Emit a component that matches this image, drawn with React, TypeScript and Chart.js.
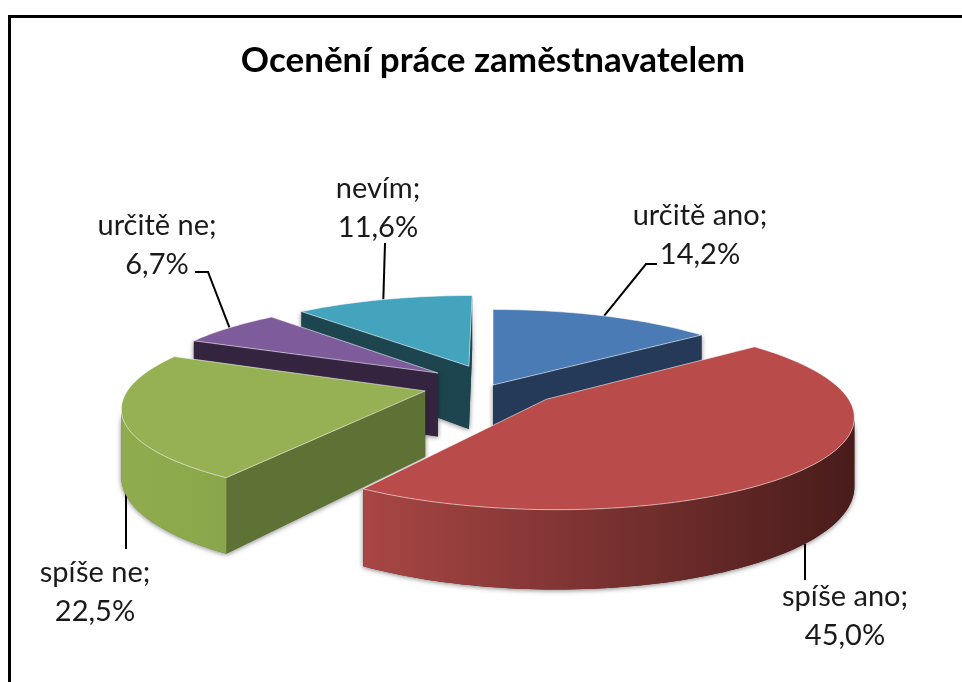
import React, { useEffect, useRef } from "react";
import { Chart, registerables } from "chart.js";

Chart.register(...registerables);

const TITLE = "Ocenění práce zaměstnavatelem";
const categories = ["určitě ano", "spíše ano", "spíše ne", "určitě ne", "nevím"];
const values = [14.2, 45.0, 22.5, 6.7, 11.6];
const valueLabels = ["14,2%", "45,0%", "22,5%", "6,7%", "11,6%"];

const topColors = ["#4a7bb5", "#b94c4a", "#96b154", "#7e5c9c", "#44a3bd"];
const cutColors = ["#243a58", "#5a2422", "#5f7235", "#35243f", "#1d4550"];
const wallLeft = ["#2c4a70", "#a84644", "#8fad4e", "#44305c", "#24596a"];
const wallRight = ["#243a58", "#481c1b", "#8aa64a", "#35243f", "#1d4550"];
const sliceOffsets = [0, 63, 63, 63, 63];

// view of the pie: how the flat disc is squashed and tilted
const VIEW = { sx: 1.11, sy: 0.33, tilt: 0.16, depth: 65 };

// label layout: line-centre x, first baseline, then the elbows of the leader
const labelLayout = [
  { x: 700, y: 225, leader: [[646, 264], [657, 264]], onWall: false },
  { x: 845, y: 606, leader: [[805, 580]], onWall: true },
  { x: 95, y: 582, leader: [[126, 549]], onWall: true },
  { x: 157, y: 235, leader: [[208, 272], [195, 272]], onWall: false },
  { x: 378, y: 198, leader: [[385, 243]], onWall: false },
];

function project(arc: any, u: number, v: number, down = 0) {
  const r = arc.outerRadius;
  const s = 1 / (1 - VIEW.tilt * v);
  return {
    x: arc.x + r * VIEW.sx * u * s,
    y: arc.y + r * VIEW.sy * v * s + down * s,
  };
}

function sliceGeometry(arc: any) {
  const mid = (arc.startAngle + arc.endAngle) / 2;
  const e = (arc.options.offset || 0) / arc.outerRadius;
  const ax = Math.cos(mid) * e;
  const ay = Math.sin(mid) * e;
  const disc: [number, number][] = [[ax, ay]];
  const steps = Math.max(4, Math.ceil(((arc.endAngle - arc.startAngle) * 180) / Math.PI / 1.5));
  for (let i = 0; i <= steps; i++) {
    const a = arc.startAngle + ((arc.endAngle - arc.startAngle) * i) / steps;
    disc.push([ax + Math.cos(a), ay + Math.sin(a)]);
  }
  return { mid, ax, ay, disc };
}

function tracePoly(ctx: CanvasRenderingContext2D, pts: { x: number; y: number }[]) {
  pts.forEach((p, i) => (i ? ctx.lineTo(p.x, p.y) : ctx.moveTo(p.x, p.y)));
  ctx.closePath();
}

const pie3d = {
  id: "pie3d",
  beforeDatasetDraw(chart: any) {
    const ctx: CanvasRenderingContext2D = chart.ctx;
    const arcs: any[] = chart.getDatasetMeta(0).data;

    // leaders go underneath the slices
    ctx.save();
    ctx.strokeStyle = "#000";
    ctx.lineWidth = 2;
    arcs.forEach((arc, i) => {
      const g = sliceGeometry(arc);
      const lay = labelLayout[i];
      const start = project(arc, g.ax + Math.cos(g.mid), g.ay + Math.sin(g.mid), lay.onWall ? VIEW.depth : 0);
      ctx.beginPath();
      ctx.moveTo(lay.onWall ? lay.leader[0][0] : start.x, start.y);
      lay.leader.forEach(([x, y]) => ctx.lineTo(x, y));
      ctx.stroke();
    });
    ctx.restore();

    const order = arcs
      .map((arc, i) => ({ arc, i, depthKey: Math.sin((arc.startAngle + arc.endAngle) / 2) }))
      .sort((a, b) => a.depthKey - b.depthKey);

    order.forEach(({ arc, i }) => {
      const g = sliceGeometry(arc);
      const top = g.disc.map(([u, v]) => project(arc, u, v));
      const bot = g.disc.map(([u, v]) => project(arc, u, v, VIEW.depth));
      const n = top.length;

      const cut = new Path2D();
      const wall = new Path2D();
      let minX = Infinity;
      let maxX = -Infinity;
      for (let k = 0; k < n; k++) {
        const m = (k + 1) % n;
        if (top[m].x >= top[k].x) continue;
        const target = k === 0 || k === n - 1 ? cut : wall;
        target.moveTo(top[k].x, top[k].y);
        target.lineTo(top[m].x, top[m].y);
        target.lineTo(bot[m].x, bot[m].y);
        target.lineTo(bot[k].x, bot[k].y);
        target.closePath();
        if (target === wall) {
          minX = Math.min(minX, top[m].x);
          maxX = Math.max(maxX, top[k].x);
        }
      }

      // soft shadow round the silhouette
      ctx.save();
      ctx.shadowColor = "rgba(0,0,0,0.5)";
      ctx.shadowBlur = 5;
      ctx.shadowOffsetY = 1;
      ctx.fillStyle = cutColors[i];
      ctx.fill(cut);
      ctx.fill(wall);
      ctx.restore();

      ctx.fillStyle = cutColors[i];
      ctx.fill(cut);
      if (maxX > minX) {
        const grad = ctx.createLinearGradient(minX, 0, maxX, 0);
        grad.addColorStop(0, wallLeft[i]);
        grad.addColorStop(1, wallRight[i]);
        ctx.fillStyle = grad;
        ctx.fill(wall);
      }

      ctx.beginPath();
      tracePoly(ctx, top);
      ctx.fillStyle = arc.options.backgroundColor;
      ctx.fill();
      ctx.strokeStyle = "rgba(255,255,255,0.55)";
      ctx.lineWidth = 1;
      ctx.stroke();
    });

    // data labels
    ctx.save();
    ctx.fillStyle = "#1a1a1a";
    ctx.font = "29px Lato";
    ctx.textAlign = "center";
    ctx.textBaseline = "alphabetic";
    arcs.forEach((_, i) => {
      const lay = labelLayout[i];
      ctx.fillText(categories[i] + ";", lay.x, lay.y);
      ctx.fillText(valueLabels[i], lay.x, lay.y + 39);
    });
    ctx.restore();
    return false;
  },
};

export default function App() {
  const ref = useRef<HTMLCanvasElement>(null);
  useEffect(() => {
    const chart = new Chart(ref.current!, {
      type: "pie",
      data: {
        labels: categories,
        datasets: [
          {
            data: values,
            backgroundColor: topColors,
            borderWidth: 0,
            offset: sliceOffsets,
            hoverOffset: 0,
          },
        ],
      },
      options: {
        responsive: false,
        animation: false,
        events: [],
        layout: { padding: { left: 24 } },
        plugins: {
          legend: { display: false },
          tooltip: { enabled: false },
          title: {
            display: true,
            text: TITLE,
            color: "#000",
            font: { family: "Lato", size: 35, weight: "bold" },
            padding: { top: 40, bottom: 6 },
          },
        },
      },
      plugins: [pie3d],
    } as any);
    return () => chart.destroy();
  }, []);
  return (
    <div style={{ position: "fixed", inset: 0, overflow: "hidden", background: "#fff" }}>
      <canvas ref={ref} width={962} height={682} style={{ position: "absolute", left: 0, top: 0 }} />
      <div
        style={{
          position: "absolute",
          left: 8,
          top: 15,
          width: 1000,
          height: 800,
          borderLeft: "3px solid #000",
          borderTop: "3px solid #000",
          pointerEvents: "none",
        }}
      />
    </div>
  );
}
